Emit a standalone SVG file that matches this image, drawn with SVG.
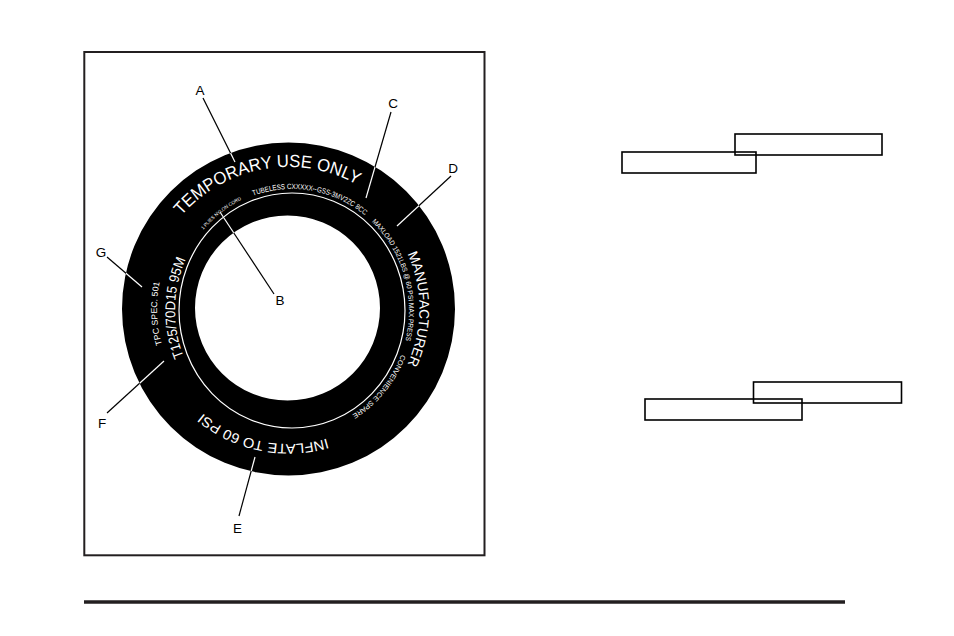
<svg xmlns="http://www.w3.org/2000/svg" xmlns:xlink="http://www.w3.org/1999/xlink" width="954" height="636" viewBox="0 0 954 636">
<style>
.lbl{font-family:"Liberation Sans",Arial,sans-serif;font-size:13.5px;fill:#000;text-anchor:middle}
.tt{font-family:"Liberation Sans",Arial,sans-serif;fill:#fff}
.ld{stroke:#000;stroke-width:1.2;fill:none}
.ldw{stroke:#fff;stroke-width:1.2;fill:none}
.box{fill:none;stroke:#000;stroke-width:1.6}
</style>
<defs>
<clipPath id="band"><path clip-rule="evenodd" d="M122,309 a166.5,166.5 0 1,0 333,0 a166.5,166.5 0 1,0 -333,0 Z M195,308 a92.5,92.5 0 1,0 185,0 a92.5,92.5 0 1,0 -185,0 Z"/></clipPath>
<path id="pTemp" d="M155.06,260.43 A142,142 0 0 1 397.28,217.72"/>
<path id="pTub" d="M232.62,205.82 A117,121.5 0 0 1 380.97,231.60"/>
<path id="pPly" d="M193.03,243.78 A118,122.5 0 0 1 257.50,193.35"/>
<path id="pMax" d="M347.83,203.73 A117,121.5 0 0 1 394.82,368.48"/>
<path id="pConv" d="M407.12,332.22 A117,121.5 0 0 1 331.44,424.89"/>
<path id="pSize" d="M216.79,403.57 A117,121.5 0 0 1 220.77,214.10"/>
<path id="pTpc" d="M190.78,396.99 A131.5,131.5 0 0 1 184.88,228.04"/>
<path id="pManu" d="M354,195.55 A131,131 0 0 1 354,422.45"/>
<path id="pInf" d="M389.61,398.45 A135,135 0 0 1 160.48,351.84"/>
</defs>
<rect width="954" height="636" fill="#fff"/>
<g id="frame"><rect x="84.3" y="52" width="400.2" height="503.3" fill="none" stroke="#231f20" stroke-width="2"/></g>
<g id="tire">
<path fill="#000" fill-rule="evenodd" d="M122,309 a166.5,166.5 0 1,0 333,0 a166.5,166.5 0 1,0 -333,0 Z M195,308 a92.5,92.5 0 1,0 185,0 a92.5,92.5 0 1,0 -185,0 Z"/>
<ellipse cx="292" cy="310.5" rx="113" ry="117.5" fill="none" stroke="#fff" stroke-width="1.2"/>
<text class="tt" font-size="17.5"><textPath xlink:href="#pTemp" href="#pTemp" startOffset="50%" text-anchor="middle" textLength="193" lengthAdjust="spacingAndGlyphs">TEMPORARY USE ONLY</textPath></text>
<text class="tt" font-size="7.5"><textPath xlink:href="#pTub" href="#pTub" startOffset="50%" text-anchor="middle" textLength="118" lengthAdjust="spacingAndGlyphs">TUBELESS CXXXXX--GSS-3MV2ZC 8CC</textPath></text>
<text class="tt" font-size="4.8"><textPath xlink:href="#pPly" href="#pPly" startOffset="50%" text-anchor="middle" textLength="49" lengthAdjust="spacingAndGlyphs">1 PLIES NYLON CORD</textPath></text>
<text class="tt" font-size="7"><textPath xlink:href="#pMax" href="#pMax" startOffset="50%" text-anchor="middle" textLength="129" lengthAdjust="spacingAndGlyphs">MAXLOAD 1521LBS @ 60 PSI MAX PRESS</textPath></text>
<text class="tt" font-size="7"><textPath xlink:href="#pConv" href="#pConv" startOffset="50%" text-anchor="middle" textLength="79" lengthAdjust="spacingAndGlyphs">CONVENIENCE SPARE</textPath></text>
<text class="tt" font-size="14"><textPath xlink:href="#pSize" href="#pSize" startOffset="50%" text-anchor="middle" textLength="100" lengthAdjust="spacingAndGlyphs">T125/70D15  95M</textPath></text>
<text class="tt" font-size="8.5"><textPath xlink:href="#pTpc" href="#pTpc" startOffset="50%" text-anchor="middle" textLength="63" lengthAdjust="spacingAndGlyphs">TPC SPEC. 501</textPath></text>
<text class="tt" font-size="14"><textPath xlink:href="#pManu" href="#pManu" startOffset="50%" text-anchor="middle" textLength="114" lengthAdjust="spacingAndGlyphs">MANUFACTURER</textPath></text>
<text class="tt" font-size="14"><textPath xlink:href="#pInf" href="#pInf" startOffset="50%" text-anchor="middle" textLength="132" lengthAdjust="spacingAndGlyphs">INFLATE TO 60 PSI</textPath></text>
</g>
<g id="connectors">
<g class="ld">
<line x1="203" y1="98" x2="235" y2="162"/>
<line x1="391" y1="112" x2="366" y2="198"/>
<line x1="451" y1="176" x2="397" y2="226"/>
<line x1="220" y1="212" x2="274" y2="294"/>
<line x1="107" y1="257" x2="142" y2="287"/>
<line x1="107" y1="413" x2="164" y2="361"/>
<line x1="239" y1="516" x2="255" y2="457"/>
</g>
<g class="ldw" clip-path="url(#band)">
<line x1="203" y1="98" x2="235" y2="162"/>
<line x1="391" y1="112" x2="366" y2="198"/>
<line x1="451" y1="176" x2="397" y2="226"/>
<line x1="220" y1="212" x2="274" y2="294"/>
<line x1="107" y1="257" x2="142" y2="287"/>
<line x1="107" y1="413" x2="164" y2="361"/>
<line x1="239" y1="516" x2="255" y2="457"/>
</g>
</g>
<g id="label-A"><text class="lbl" x="200" y="95">A</text></g>
<g id="label-B"><text class="lbl" x="280" y="305">B</text></g>
<g id="label-C"><text class="lbl" x="393" y="108">C</text></g>
<g id="label-D"><text class="lbl" x="453" y="173">D</text></g>
<g id="label-E"><text class="lbl" x="237.5" y="533">E</text></g>
<g id="label-F"><text class="lbl" x="102" y="428">F</text></g>
<g id="label-G"><text class="lbl" x="101" y="257">G</text></g>
<g id="boxes">
<rect class="box" x="735" y="134" width="147" height="21"/>
<rect class="box" x="622" y="152" width="134" height="21" stroke-width="2"/>
<rect class="box" x="753.5" y="382" width="148" height="21"/>
<rect class="box" x="645" y="399" width="157" height="21"/>
</g>
<g id="rule"><line x1="84" y1="602" x2="845" y2="602" stroke="#231f20" stroke-width="3.3"/></g>
</svg>
